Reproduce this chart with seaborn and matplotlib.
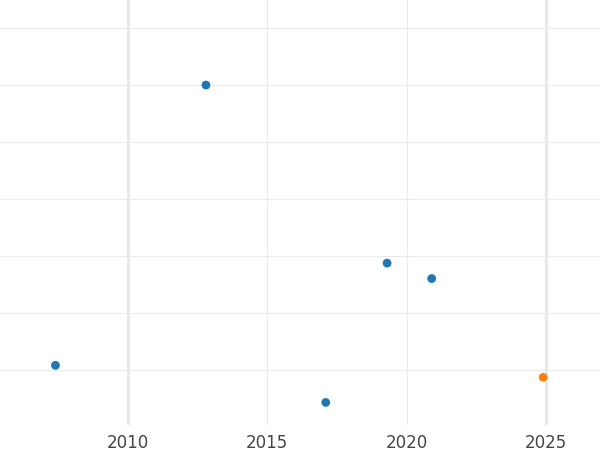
import matplotlib
matplotlib.use("Agg")
import matplotlib.pyplot as plt
import seaborn as sns
import pandas as pd

years = [2007.4, 2012.8, 2017.1, 2019.3, 2020.9, 2024.9]
values = [0.09, 5.0, -0.56, 1.88, 1.61, -0.12]
group = ["past", "past", "past", "past", "past", "latest"]
palette = {"past": "#1f77b4", "latest": "#ff7f0e"}

df = pd.DataFrame({"year": years, "value": values, "group": group})

sns.set_style("white")
fig = plt.figure(figsize=(6, 4.5), dpi=100)
ax = fig.add_axes([0, 0.055, 1, 0.945])
ax.grid(True, color="#ebebeb", lw=0.8)
ax.set_axisbelow(True)
for x in (2010, 2025):
    ax.axvline(x, color="#e4e4e4", lw=2, zorder=0)
sns.scatterplot(data=df, x="year", y="value", hue="group", palette=palette,
                s=40, edgecolor="none", legend=False, ax=ax, zorder=3)
ax.set_xlim(2005.41, 2026.94)
ax.set_ylim(-0.96, 6.49)
ax.set_xticks([2010, 2015, 2020, 2025])
ax.set_yticks(range(0, 7))
ax.set_yticklabels([])
ax.tick_params(axis="x", labelsize=12, labelcolor="#444444", length=0, pad=6)
ax.tick_params(axis="y", length=0)
ax.set_xlabel("")
ax.set_ylabel("")
for s in ax.spines.values():
    s.set_visible(False)
fig.savefig("out.png")
